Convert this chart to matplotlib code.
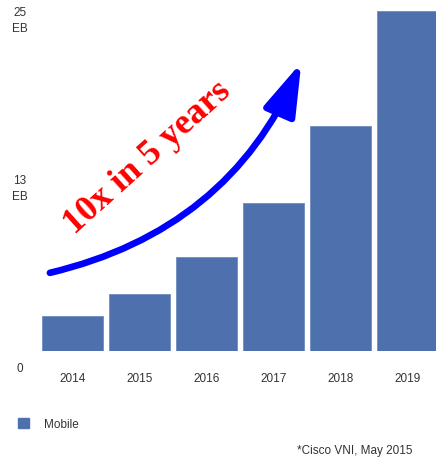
import matplotlib
matplotlib.use("Agg")
import matplotlib.pyplot as plt
from matplotlib.patches import FancyArrowPatch, Patch
from matplotlib.transforms import ScaledTranslation

# mobile data traffic, exabytes per month
years = ["2014", "2015", "2016", "2017", "2018", "2019"]
traffic = [2.5, 4.1, 6.7, 10.6, 16.1, 24.3]
ytick_vals = [0, 13, 25]
ytick_text = ["0", "13\nEB", "25\nEB"]

bar_color = "#4e71ad"
text_color = "#333333"

plt.rcParams["font.family"] = ["Liberation Sans", "DejaVu Sans"]

fig = plt.figure(figsize=(4.36, 4.6), dpi=100)
W, H = 436.0, 460.0
# axes box in pixels: left 40, right 436, top 0, bottom 352
ax = fig.add_axes([40 / W, (H - 352) / H, 396 / W, 352 / H])

x = range(len(years))
bars = ax.bar(x, traffic, width=0.91, color=bar_color, edgecolor="#6f8cc0", linewidth=0.6)

ax.set_xlim(-0.485, 5.425)
ax.set_ylim(0, 25.14)
for s in ax.spines.values():
    s.set_visible(False)

ax.set_xticks(list(x))
ax.set_xticklabels(years, fontsize=8.5, color=text_color)
ax.tick_params(axis="x", length=0, pad=15)

ax.set_yticks(ytick_vals)
ax.set_yticklabels(ytick_text, fontsize=8.5, color=text_color, ha="center",
                   multialignment="center", linespacing=1.45)
ax.tick_params(axis="y", length=0, pad=14.5)
shift = ScaledTranslation(0, -11 / 72, fig.dpi_scale_trans)
for lab in ax.get_yticklabels():
    lab.set_transform(lab.get_transform() + shift)

# growth arrow and caption
arrow = FancyArrowPatch((0.025, 0.222), (0.66, 0.82), transform=ax.transAxes,
                        connectionstyle="arc3,rad=0.25",
                        arrowstyle="-|>,head_length=1.6,head_width=0.5",
                        mutation_scale=20, color="#0000ff", linewidth=4.8,
                        shrinkA=0, shrinkB=0, capstyle="round")
ax.add_patch(arrow)

ax.text(0.273, 0.551, "10x in 5 years", transform=ax.transAxes, rotation=42,
        rotation_mode="anchor", ha="center", va="center", color="#ff0000",
        fontsize=26, fontweight="bold", family=["Liberation Serif", "DejaVu Serif"])

fig.legend(handles=[Patch(facecolor=bar_color, edgecolor=bar_color)], labels=["Mobile"],
           loc="center left", bbox_to_anchor=(7 / W, (H - 425) / H), frameon=False,
           fontsize=8.5, handlelength=1.0, handleheight=1.0, handletextpad=1.2,
           labelcolor=text_color)

fig.text(412 / W, (H - 451) / H, "*Cisco VNI, May 2015", ha="right", va="center",
         fontsize=8.5, color=text_color)

fig.savefig("out.png", dpi=100)
